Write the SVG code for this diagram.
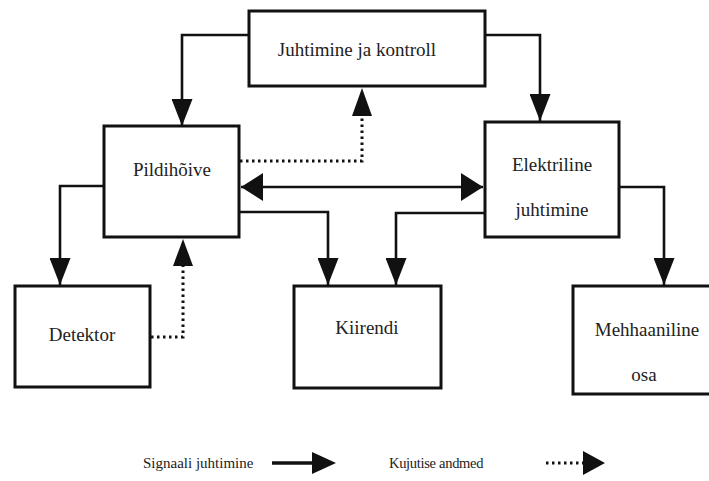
<svg xmlns="http://www.w3.org/2000/svg" width="709" height="481" viewBox="0 0 709 481">
<style>
.box{fill:#fff;stroke:#111;stroke-width:3}
.ln{fill:none;stroke:#111;stroke-width:2.6}
.dot{fill:none;stroke:#111;stroke-width:3;stroke-dasharray:2.5 3.5}
text{font-family:'Liberation Serif','DejaVu Serif','Times New Roman',serif;fill:#222}
.t{font-size:19px;text-anchor:middle}
.lg{font-size:15px}
</style>
<defs>
<marker id="a" viewBox="0 0 27 21" refX="27" refY="10.5" markerWidth="27" markerHeight="21" markerUnits="userSpaceOnUse" orient="auto">
<path d="M0,0 L27,10.5 L0,21 Z" fill="#111"/>
</marker>
<marker id="h" viewBox="0 0 22 28" refX="22" refY="14" markerWidth="22" markerHeight="28" markerUnits="userSpaceOnUse" orient="auto">
<path d="M0,0 L22,14 L0,28 Z" fill="#111"/>
</marker>
<marker id="hs" viewBox="0 0 22 28" refX="0" refY="14" markerWidth="22" markerHeight="28" markerUnits="userSpaceOnUse" orient="auto">
<path d="M22,0 L0,14 L22,28 Z" fill="#111"/>
</marker>
</defs>
<g id="connectors">
<path class="ln" d="M249,35 H182 V126" marker-end="url(#a)"/>
<path class="ln" d="M485,35 H540 V121" marker-end="url(#a)"/>
<path class="dot" d="M240,161 H362 V116"/>
<path d="M352,116 L362,88 L372,116 Z" fill="#111"/>
<path class="ln" d="M241,187 H483" marker-start="url(#hs)" marker-end="url(#h)"/>
<path class="ln" d="M240,212 H328 V285" marker-end="url(#a)"/>
<path class="ln" d="M485,213 H396 V285" marker-end="url(#a)"/>
<path class="ln" d="M104,186 H60 V285" marker-end="url(#a)"/>
<path class="ln" d="M619,187 H664 V285" marker-end="url(#a)"/>
<path class="dot" d="M151,337 H183 V266"/>
<path d="M173,266 L183,239 L193,266 Z" fill="#111"/>
</g>
<g id="juhtimine-ja-kontroll">
<rect class="box" x="249" y="11" width="236" height="75"/>
<text class="t" x="357" y="56">Juhtimine ja kontroll</text>
</g>
<g id="pildihoive">
<rect class="box" x="104" y="126" width="135" height="111"/>
<text class="t" x="172" y="176">Pildihõive</text>
</g>
<g id="elektriline-juhtimine">
<rect class="box" x="485" y="122" width="134" height="115"/>
<text class="t" x="552" y="171">Elektriline</text>
<text class="t" x="552" y="216">juhtimine</text>
</g>
<g id="detektor">
<rect class="box" x="15" y="286" width="135" height="101"/>
<text class="t" x="82" y="341">Detektor</text>
</g>
<g id="kiirendi">
<rect class="box" x="294" y="286" width="147" height="102"/>
<text class="t" x="367" y="334">Kiirendi</text>
</g>
<g id="mehhaaniline-osa">
<rect class="box" x="573" y="286" width="150" height="108"/>
<text class="t" x="647" y="336">Mehhaaniline</text>
<text class="t" x="644" y="381">osa</text>
</g>
<g id="legend">
<text class="lg" x="143" y="468">Signaali juhtimine</text>
<path class="ln" d="M272,463 H313" style="stroke-width:3.5"/>
<path d="M312,452 L336,463 L312,474 Z" fill="#111"/>
<text class="lg" x="389" y="468" style="font-size:14.5px;letter-spacing:-0.3px">Kujutise andmed</text>
<path class="dot" d="M546,463 H584"/>
<path d="M583,451 L605,463 L583,475 Z" fill="#111"/>
</g>
</svg>
